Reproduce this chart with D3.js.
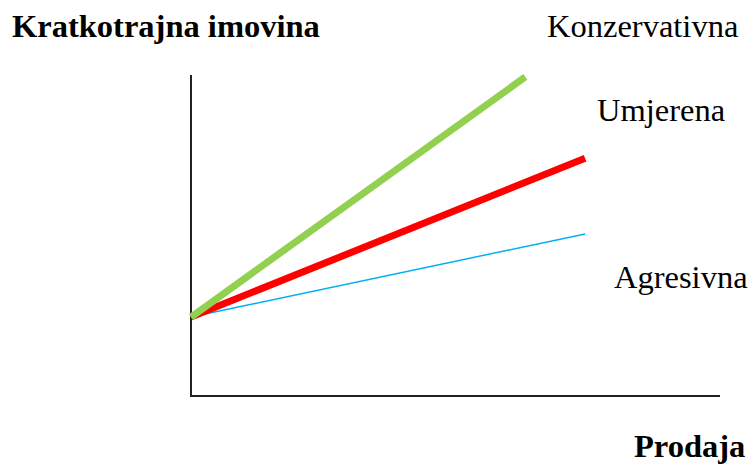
<!DOCTYPE html>
<html>
<head>
<meta charset="utf-8">
<script src="https://cdn.jsdelivr.net/npm/d3@7"></script>
<style>
  body { margin: 0; background: #fff; }
  text { font-family: "Liberation Serif", "Times New Roman", serif; }
</style>
</head>
<body>
<script>
// strategies for current assets vs. sales
const strategies = ['Agresivna', 'Umjerena', 'Konzervativna'];
const colors = ['#00b0f0', '#ff0000', '#92d050'];
const widths = [1.5, 7, 7];
const salesStart = [0, 0, 0];
const salesEnd = [74.5, 74.5, 63.2];
const assetsStart = [24.6, 24.6, 24.6];
const assetsEnd = [50.5, 74.1, 99.4];

const yTitle = 'Kratkotrajna imovina';
const xTitle = 'Prodaja';

const width = 751;
const height = 464;
const margin = { top: 75, right: 31, bottom: 68, left: 191 };

const svg = d3.select('body').append('svg')
  .attr('width', width)
  .attr('height', height);

const x = d3.scaleLinear()
  .domain([0, 100])
  .range([margin.left, width - margin.right]);

const y = d3.scaleLinear()
  .domain([0, 100])
  .range([height - margin.bottom, margin.top]);

// axes (no ticks)
svg.append('line')
  .attr('x1', x(0)).attr('x2', x(0))
  .attr('y1', y(0)).attr('y2', y(100))
  .style('stroke', '#222').style('stroke-width', 2);

svg.append('line')
  .attr('x1', x(0) - 1).attr('x2', x(100))
  .attr('y1', y(0)).attr('y2', y(0))
  .style('stroke', '#222').style('stroke-width', 2);

const lines = strategies.map((s, i) => ({
  name: s,
  pts: [[salesStart[i], assetsStart[i]], [salesEnd[i], assetsEnd[i]]],
  color: colors[i],
  w: widths[i]
}));

const lineGen = d3.line()
  .x(d => x(d[0]))
  .y(d => y(d[1]));

svg.selectAll('path.strategy')
  .data(lines)
  .enter()
  .append('path')
  .attr('class', 'strategy')
  .attr('d', d => lineGen(d.pts))
  .style('fill', 'none')
  .style('stroke', d => d.color)
  .style('stroke-width', d => d.w);

// labels
svg.append('text')
  .attr('x', 12).attr('y', 37)
  .style('font-size', '32.5px').style('font-weight', 'bold')
  .text(yTitle);

svg.append('text')
  .attr('x', 634).attr('y', 457)
  .style('font-size', '32.5px').style('font-weight', 'bold')
  .text(xTitle);

const labelPos = [[614, 288], [597, 121], [547, 37]];
svg.selectAll('text.name')
  .data(strategies)
  .enter()
  .append('text')
  .attr('class', 'name')
  .attr('x', (d, i) => labelPos[i][0])
  .attr('y', (d, i) => labelPos[i][1])
  .style('font-size', '32.5px')
  .text(d => d);
</script>
</body>
</html>
